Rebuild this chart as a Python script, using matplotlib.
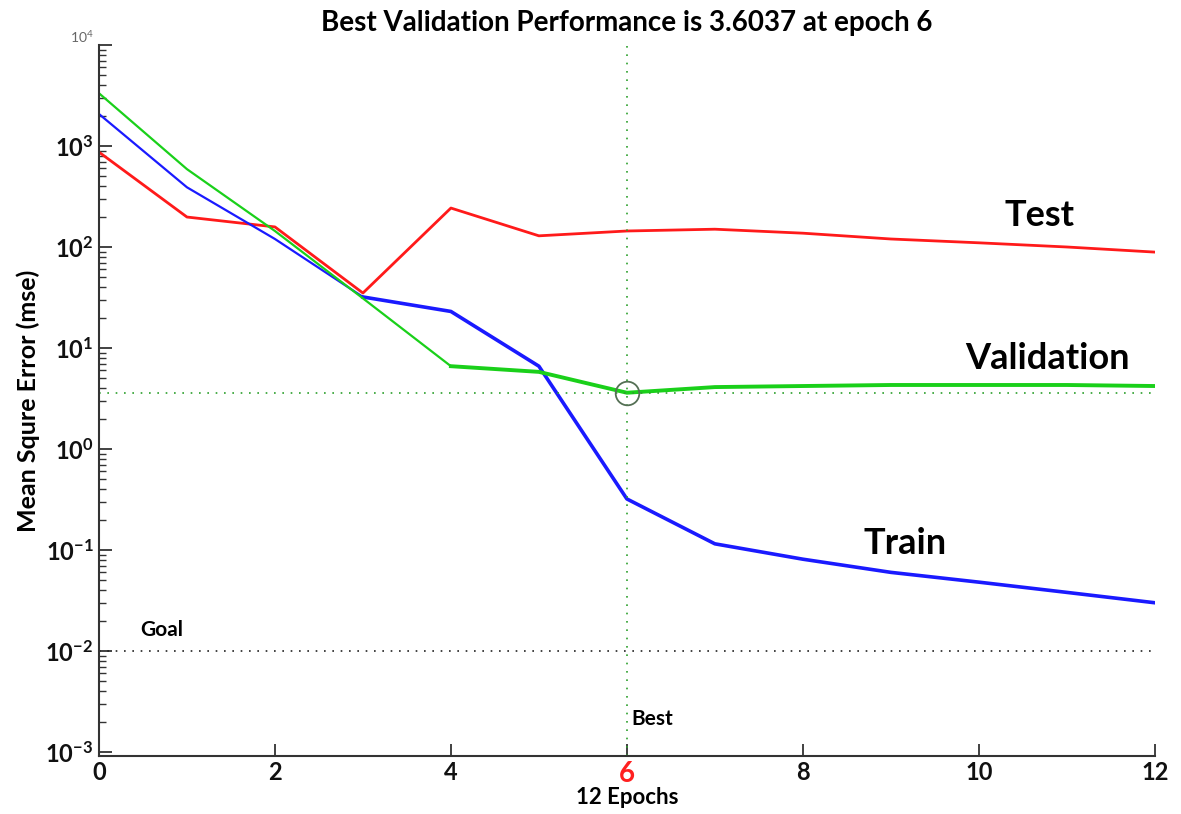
import numpy as np
import matplotlib
matplotlib.use("Agg")
from matplotlib import pyplot as plt
from matplotlib.ticker import LogLocator, NullFormatter

plt.rcParams['font.family'] = ['Lato', 'DejaVu Sans']
plt.rcParams['mathtext.fontset'] = 'custom'
plt.rcParams['mathtext.rm'] = 'Lato:bold'

epochs = [0, 1, 2, 3, 4, 5, 6, 7, 8, 9, 10, 11, 12]
train_mse = [2075, 390, 120, 32, 23, 6.6, 0.32, 0.115, 0.081, 0.060, 0.048, 0.038, 0.030]
val_mse = [3330, 590, 144, 31, 6.6, 5.8, 3.6037, 4.1, 4.2, 4.3, 4.3, 4.3, 4.2]
test_mse = [870, 198, 158, 35, 243, 129, 144, 150, 137, 120, 110, 100, 89]

best_epoch = 6
best_perf = 3.6037
goal = 0.01

x_ticks = [0, 2, 4, 6, 8, 10, 12]
y_exps = [-3, -2, -1, 0, 1, 2, 3, 4]

fig = plt.figure(figsize=(11.81, 8.14), dpi=100)
ax = fig.add_axes([0.0838, 0.0713, 0.8940, 0.8734])

ax.plot(epochs, test_mse, color='#ff1a1a', lw=2.0)
# train and validation get heavier once they leave the early descent
ax.plot(epochs[:4], train_mse[:4], color='#1a1aff', lw=1.6)
ax.plot(epochs[3:], train_mse[3:], color='#1a1aff', lw=2.6)
ax.plot(epochs[:5], val_mse[:5], color='#1ad01a', lw=1.6)
ax.plot(epochs[4:], val_mse[4:], color='#1ad01a', lw=2.8)

# best epoch markers and goal line
ax.axvline(best_epoch, color='#2ca02c', ls=(0, (1, 4)), lw=1.2)
ax.axhline(best_perf, color='#2ca02c', ls=(0, (1, 4)), lw=1.2)
ax.axhline(goal, color='#222222', ls=(0, (1, 4)), lw=1.2)
ax.plot([best_epoch], [best_perf], 'o', ms=17, mfc='none', mec='#557055', mew=1.3)

ax.set_yscale('log')
ax.set_xlim(0, 12)
ax.set_ylim(10 ** -3.04, 1e4)

ax.set_yticks([10.0 ** e for e in y_exps],
              [r'$\mathregular{10^{%d}}$' % e for e in y_exps])
ax.yaxis.set_minor_locator(LogLocator(base=10, subs=np.arange(2, 10), numticks=20))
ax.yaxis.set_minor_formatter(NullFormatter())
ax.set_xticks(x_ticks, [str(t) for t in x_ticks])

ax.tick_params(axis='both', which='major', direction='in', length=9, width=1.3,
               colors='#333333', labelsize=17, labelcolor='#111111')
ax.tick_params(axis='y', which='minor', direction='in', length=5, width=1.0, colors='#333333')
ax.tick_params(axis='y', pad=4)
for lbl in ax.get_xticklabels() + ax.get_yticklabels():
    lbl.set_fontweight('bold')
top_lbl = ax.get_yticklabels()[-1]
top_lbl.set_fontsize(10)
top_lbl.set_fontweight('normal')
top_lbl.set_color('#666666')
top_lbl.set_verticalalignment('bottom')
ax.get_xticklabels()[3].set_color('#ff2020')
ax.get_xticklabels()[3].set_fontsize(20)

for side in ('top', 'right'):
    ax.spines[side].set_visible(False)
for side in ('left', 'bottom'):
    ax.spines[side].set_color('#333333')
    ax.spines[side].set_linewidth(1.5)

ax.set_title('Best Validation Performance is 3.6037 at epoch 6',
             fontsize=20, fontweight='bold', pad=10)
ax.set_xlabel('12 Epochs', fontsize=16, fontweight='bold', labelpad=0)
ax.set_ylabel('Mean Squre Error (mse)', fontsize=18, fontweight='bold', labelpad=4)

ax.text(10.69, 204, 'Test', fontsize=26, fontweight='bold', ha='center', va='center')
ax.text(10.78, 7.8, 'Validation', fontsize=26, fontweight='bold', ha='center', va='center')
ax.text(9.16, 0.117, 'Train', fontsize=26, fontweight='bold', ha='center', va='center')
ax.text(0.47, 0.016, 'Goal', fontsize=15, fontweight='bold', ha='left', va='center')
ax.text(6.05, 0.0021, 'Best', fontsize=15, fontweight='bold', ha='left', va='center')

plt.savefig('out.png', dpi=100)
